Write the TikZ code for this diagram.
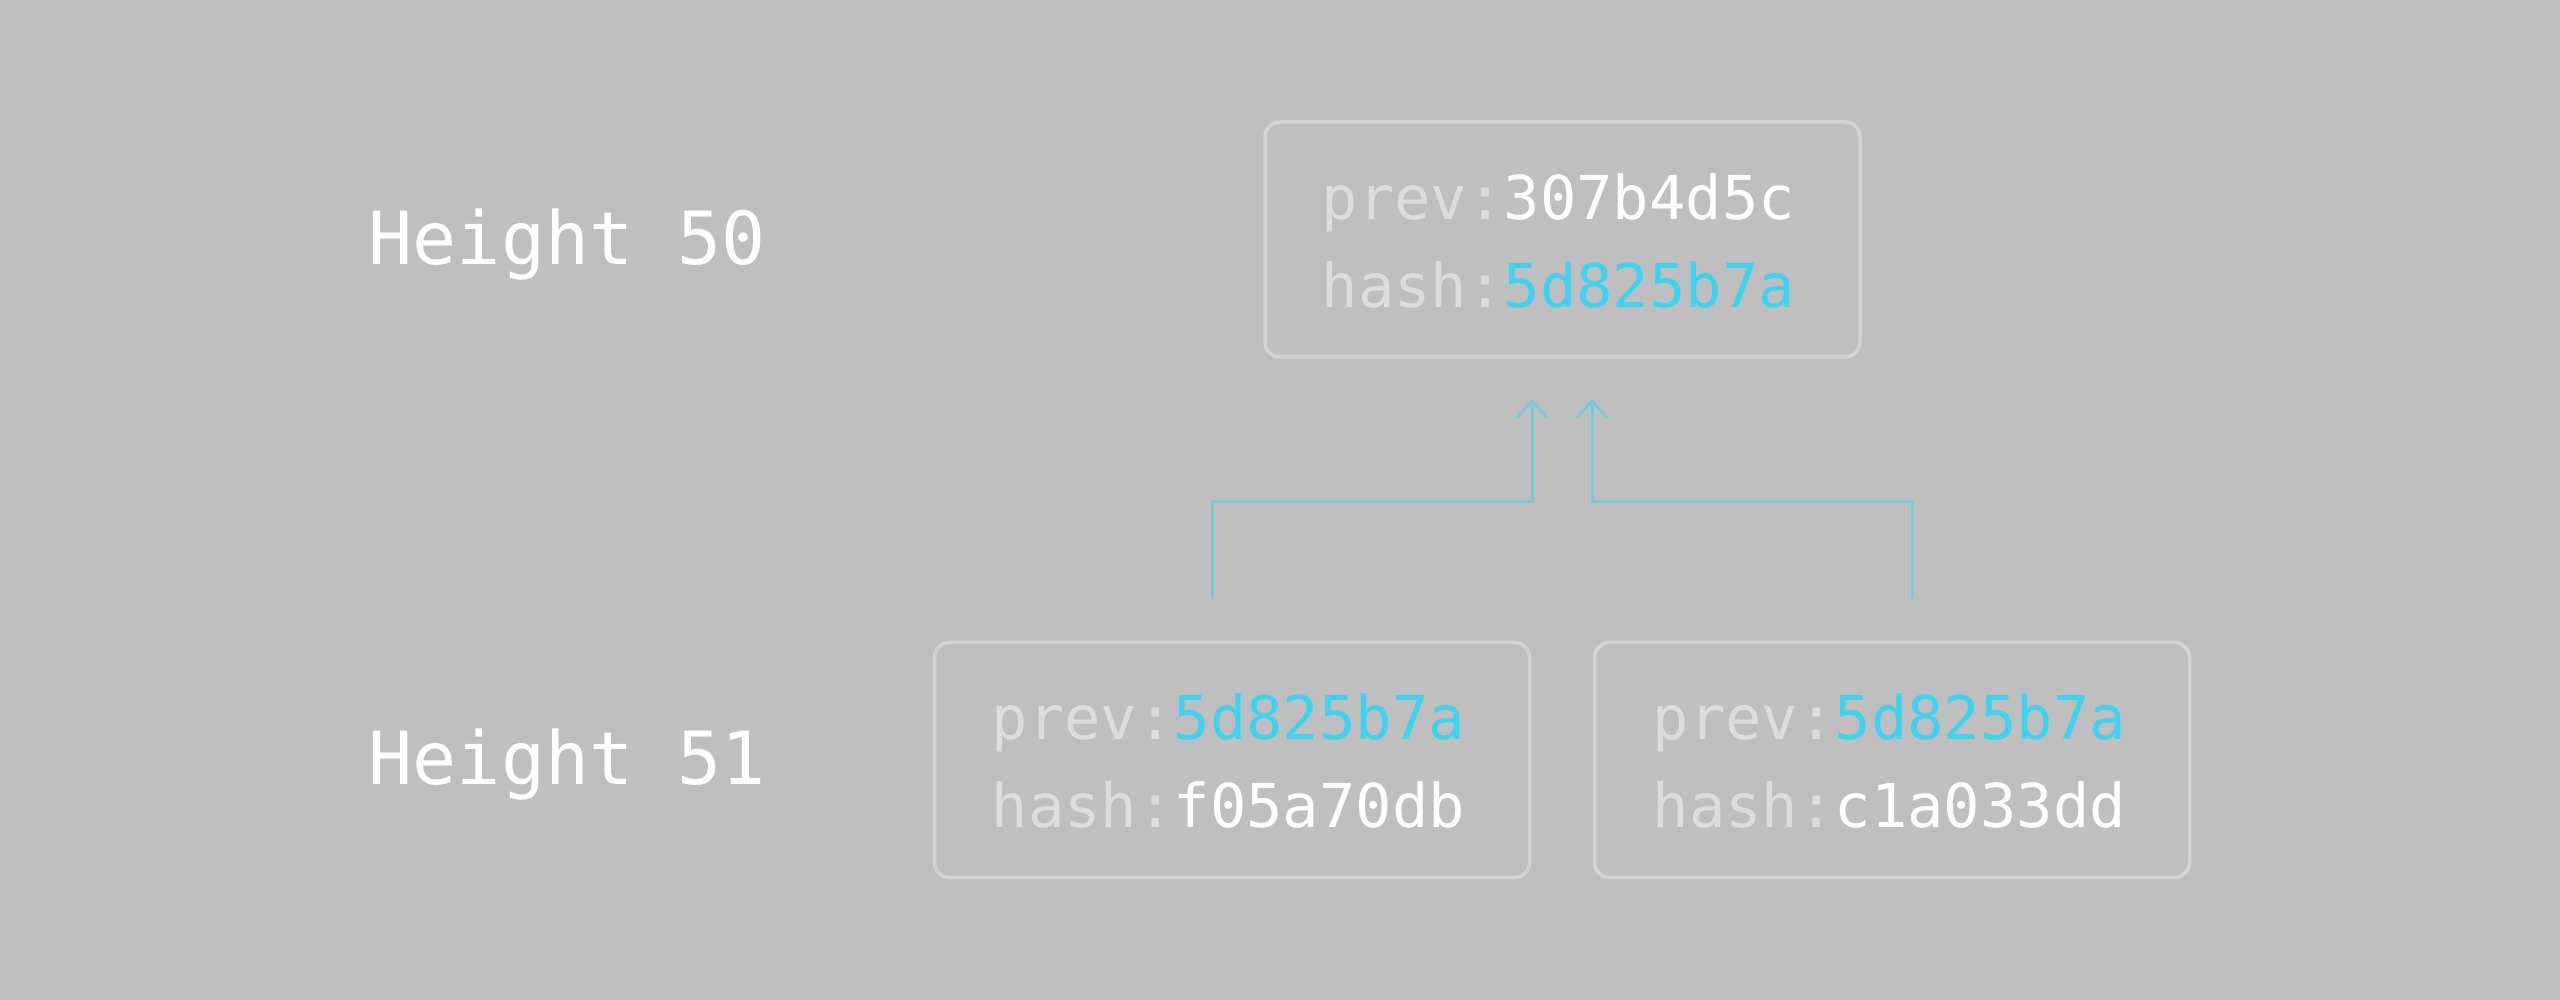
\documentclass[tikz,border=0pt]{standalone}
\usepackage{fontspec}
\setmonofont{DejaVu Sans Mono}
\usetikzlibrary{arrows.meta,calc}
\definecolor{bgc}{HTML}{BFBFBF}
\definecolor{boxc}{HTML}{D3D3D3}
\definecolor{keyc}{HTML}{DDDDDD}
\definecolor{hashc}{HTML}{3DD4F2}
\definecolor{connc}{HTML}{78C8DA}
\tikzset{
  blockbox/.style={draw=boxc, line width=0.035cm, rounded corners=0.15cm, minimum width=5.95cm, minimum height=2.35cm, inner sep=0},
  rowtext/.style={anchor=base west, inner sep=0, font=\ttfamily\fontsize{17.2}{20}\selectfont, text=white},
  heightlabel/.style={anchor=base west, inner sep=0, font=\ttfamily\fontsize{20.85}{24}\selectfont, text=white},
  conn/.style={draw=connc, line width=0.03cm, -{Straight Barb[round, length=0.16cm, width=0.3cm]}}
}
\newcommand{\keytxt}[1]{\textcolor{keyc}{#1}}
\newcommand{\hashtxt}[1]{\textcolor{hashc}{#1}}
\begin{document}
\begin{tikzpicture}
\fill[bgc] (0,0) rectangle (25.6,10);
\useasboundingbox (0,0) rectangle (25.6,10);

% labels
\node[heightlabel] (h50) at (3.68,7.35) {Height 50};
\node[heightlabel] (h51) at (3.68,2.15) {Height 51};

% blocks
\node[blockbox] (t) at (15.625,7.605) {};
\node[blockbox] (b1) at (12.32,2.40) {};
\node[blockbox] (b2) at (18.92,2.40) {};

\node[rowtext] (tp) at (13.21,7.80) {\keytxt{prev:}307b4d5c};
\node[rowtext] (th) at (13.21,6.92) {\keytxt{hash:}\hashtxt{5d825b7a}};

\node[rowtext] (b1p) at (9.91,2.60) {\keytxt{prev:}\hashtxt{5d825b7a}};
\node[rowtext] (b1h) at (9.91,1.72) {\keytxt{hash:}f05a70db};

\node[rowtext] (b2p) at (16.52,2.60) {\keytxt{prev:}\hashtxt{5d825b7a}};
\node[rowtext] (b2h) at (16.52,1.72) {\keytxt{hash:}c1a033dd};

% connectors
\coordinate (s1) at ($(b1.north)+(-0.20,0.42)$);
\coordinate (e1) at ($(t.south)+(-0.305,-0.41)$);
\coordinate (s2) at ($(b2.north)+(0.20,0.42)$);
\coordinate (e2) at ($(t.south)+(0.295,-0.41)$);
\coordinate (m1) at ($(e1)+(0,-1.02)$);
\coordinate (m2) at ($(e2)+(0,-1.02)$);
\draw[conn] (s1) |- (m1) -- (e1);
\draw[conn] (s2) |- (m2) -- (e2);
\end{tikzpicture}
\end{document}
